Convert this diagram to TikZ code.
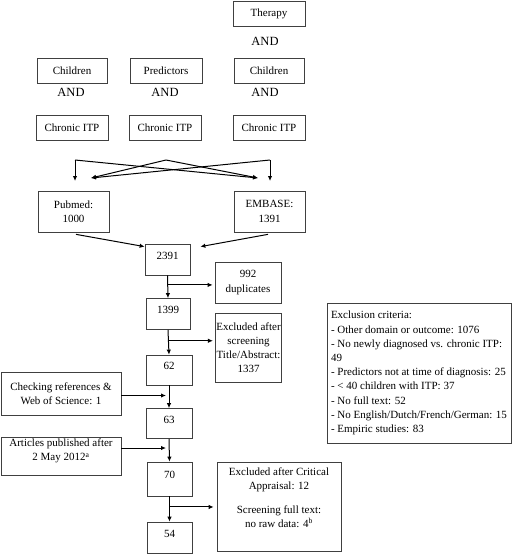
\documentclass[tikz,border=0pt]{standalone}
\usepackage{fontspec}
\setmainfont{Liberation Serif}
\usetikzlibrary{arrows.meta}
\begin{document}
\begin{tikzpicture}[x=1pt,y=-1pt,
  box/.style={draw=black!75, line width=0.7pt, font=\fontsize{11}{14.2}\selectfont, align=center, inner sep=1pt},
  numbox/.style={box, text depth=8pt},
  andtxt/.style={font=\fontsize{12.5}{14}\selectfont, inner sep=0pt},
  arr/.style={line width=1pt, -{Latex[length=5pt,width=4.5pt]}}]
\useasboundingbox (0,0) rectangle (520,555);

% search terms
\node[box,minimum width=72pt,minimum height=25pt] (therapy) at (269,13.5) {Therapy};
\node[andtxt] (and0) at (265,41) {AND};
\node[box,minimum width=70pt,minimum height=25pt] (child1) at (72,70.5) {Children};
\node[box,minimum width=72pt,minimum height=25pt] (pred) at (166,70.5) {Predictors};
\node[box,minimum width=70pt,minimum height=25pt] (child2) at (269,70.5) {Children};
\node[andtxt] (and1) at (71,92) {AND};
\node[andtxt] (and2) at (165,92) {AND};
\node[andtxt] (and3) at (265,92) {AND};
\node[box,minimum width=72pt,minimum height=25pt] (itp1) at (72,127.5) {Chronic ITP};
\node[box,minimum width=72pt,minimum height=25pt] (itp2) at (165,127.5) {Chronic ITP};
\node[box,minimum width=72pt,minimum height=25pt] (itp3) at (269,127.5) {Chronic ITP};

% crossing arrows
\coordinate (cL) at (75,160);
\coordinate (cM) at (166,160);
\coordinate (cR) at (270,160);
\coordinate (tL) at (91,178);
\coordinate (tR) at (258,178);
\coordinate (vL) at (75,181);
\coordinate (vR) at (270,181);
\draw[arr] (cL) -- (vL);
\draw[arr] (cL) -- (tR);
\draw[arr] (cM) -- (tL);
\draw[arr] (cM) -- (tR);
\draw[arr] (cR) -- (tL);
\draw[arr] (cR) -- (vR);

% databases
\node[box,minimum width=71pt,minimum height=41pt] (pubmed) at (73.5,211.5) {Pubmed:\\1000};
\node[box,minimum width=71pt,minimum height=41pt] (embase) at (269.5,211.5) {EMBASE:\\1391};

% main column
\node[numbox,minimum width=45pt,minimum height=31pt] (n2391) at (167.5,259.5) {2391};
\node[numbox,minimum width=44pt,minimum height=31pt] (n1399) at (168,314) {1399};
\node[numbox,minimum width=46pt,minimum height=30pt] (n62) at (169,370) {62};
\node[numbox,minimum width=46pt,minimum height=30pt] (n63) at (169,423.5) {63};
\node[numbox,minimum width=45pt,minimum height=34pt] (n70) at (169.5,479) {70};
\node[numbox,minimum width=45pt,minimum height=31pt] (n54) at (169.5,537.5) {54};

% side boxes
\node[box,minimum width=66pt,minimum height=41pt] (dup) at (248,282.5) {992\\duplicates};
\node[box,minimum width=65pt,minimum height=69pt] (scr) at (248.5,347.5) {Excluded after\\screening\\Title/Abstract:\\1337};
\node[box,minimum width=120pt,minimum height=43pt] (check) at (61,393.5) {Checking references \&\\Web of Science: 1};
\node[box,minimum width=120pt,minimum height=38pt,text depth=12pt] (art) at (61,456) {Articles published after\\2 May 2012\textsuperscript{a}};
\node[box,minimum width=124pt,minimum height=89pt,text depth=18pt] (crit) at (279,506.5) {Excluded after Critical\\Appraisal: 12\\[10pt]Screening full text:\\no raw data: 4\textsuperscript{b}};
\node[box,align=left,minimum width=184pt,minimum height=140pt] (excl) at (419,373) {Exclusion criteria:\\- Other domain or outcome: 1076\\- No newly diagnosed vs. chronic ITP:\\49\\- Predictors not at time of diagnosis: 25\\- {\textless} 40 children with ITP: 37\\- No full text: 52\\- No English/Dutch/French/German: 15\\- Empiric studies: 83};

% database arrows
\draw[arr] ([xshift=2.5pt,yshift=-2pt]pubmed.south) -- ([yshift=-3pt]n2391.north west);
\draw[arr] ([xshift=-1.5pt,yshift=-2pt]embase.south) -- ([xshift=10pt,yshift=-3pt]n2391.north east);

% main flow
\draw[arr] (n2391.south) -- (n1399.north);
\path (n2391.south) -- (n1399.north) coordinate[pos=0.42] (b1);
\draw[arr] (b1) -- ([xshift=-2pt]b1 -| dup.west);
\draw[arr] (n1399.south) -- (n62.north);
\path (n1399.south) -- (n62.north) coordinate[pos=0.44] (b2);
\draw[arr] (b2) -- ([xshift=-2pt]b2 -| scr.west);
\draw[arr] (n62.south) -- (n63.north);
\draw[arr, shorten >=3pt] ([yshift=-2pt]check.east) -- ([yshift=-2pt]check.east -| n62.south);
\draw[arr] (n63.south) -- (n70.north);
\draw[arr, shorten >=3pt] ([yshift=8pt]art.east) -- ([yshift=8pt]art.east -| n63.south);
\draw[arr] (n70.south) -- (n54.north);
\path (n70.south) -- (n54.north) coordinate[pos=0.42] (b3);
\draw[arr] (b3) -- ([xshift=-3pt]b3 -| crit.west);
\end{tikzpicture}
\end{document}
